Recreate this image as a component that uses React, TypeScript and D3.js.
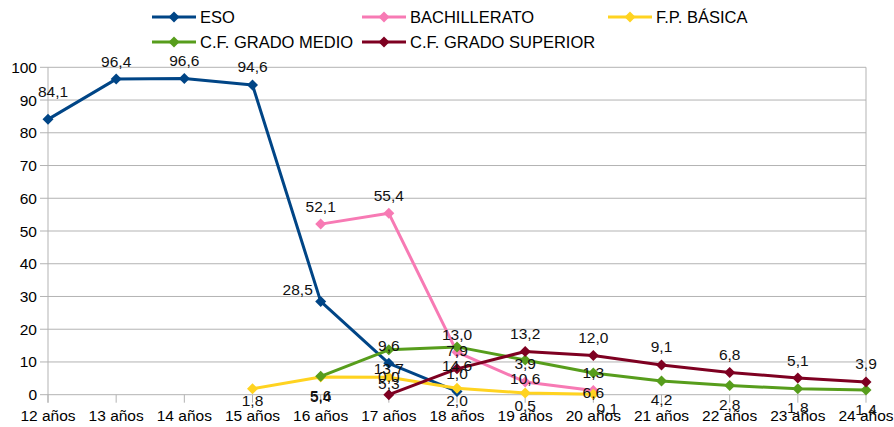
import React from "react";
import * as d3 from "d3";

const categories = ["12 años", "13 años", "14 años", "15 años", "16 años", "17 años", "18 años", "19 años", "20 años", "21 años", "22 años", "23 años", "24 años"];
const yTicks = [0, 10, 20, 30, 40, 50, 60, 70, 80, 90, 100];

const esoValues = [84.1, 96.4, 96.6, 94.6, 28.5, 9.6, 1.0, null, null, null, null, null, null];
const bachValues = [null, null, null, null, 52.1, 55.4, 13.0, 3.9, 1.3, null, null, null, null];
const fpbValues = [null, null, null, 1.8, 5.4, 5.3, 2.0, 0.5, 0.1, null, null, null, null];
const cfgmValues = [null, null, null, null, 5.6, 13.7, 14.6, 10.6, 6.6, 4.2, 2.8, 1.8, 1.4];
const cfgsValues = [null, null, null, null, null, 0.0, 7.9, 13.2, 12.0, 9.1, 6.8, 5.1, 3.9];

const seriesNames = ["ESO", "BACHILLERATO", "F.P. BÁSICA", "C.F. GRADO MEDIO", "C.F. GRADO SUPERIOR"];
const seriesValues = [esoValues, bachValues, fpbValues, cfgmValues, cfgsValues];

// styles / layout
const colors = ["#004586", "#f77ab4", "#ffd320", "#579d1c", "#7e0021"];
const labelDy = [-18, -18, 12, 19, -18];
// label placement adjustments (series-category -> [dx, dy] replacing default)
const labelAdjust: Record<string, [number, number]> = {
  "0-0": [5, -28],
  "0-4": [-23, -12],
  "2-4": [0, 19],
  "2-8": [14, 14],
  "2-5": [0, 6],
};
const legendPos = [
  { x: 152, y: 17 },
  { x: 362, y: 17 },
  { x: 608, y: 17 },
  { x: 152, y: 42 },
  { x: 362, y: 42 },
];

const W = 894;
const H = 427;
const left = 48;
const right = 866;
const top = 67.3;
const bottom = 394.7;
const FONT = "'Liberation Sans', Arial, sans-serif";
const GRID = "#b3b3b3";

const locale = d3.formatLocale({ decimal: ",", thousands: ".", grouping: [3], currency: ["", "€"] });
const fmt = locale.format(".1f");

const diamond = "M0,-5.5L5.5,0L0,5.5L-5.5,0Z";

export default function App() {
  const x = d3.scalePoint<string>().domain(categories).range([left, right]).padding(0);
  const y = d3.scaleLinear().domain([0, 100]).range([bottom, top]);

  const line = d3
    .line<number | null>()
    .defined((d) => d !== null)
    .x((_, i) => x(categories[i]) as number)
    .y((d) => y(d as number));

  return (
    <svg width={W} height={H} style={{ position: "absolute", left: 0, top: 0, background: "#fff" }} fontFamily={FONT}>
      {/* gridlines */}
      {yTicks.map((t) => (
        <line key={"g" + t} x1={left - 8} x2={right} y1={y(t)} y2={y(t)} stroke={GRID} strokeWidth={1} />
      ))}
      {/* axes */}
      <line x1={left} x2={left} y1={top} y2={bottom + 8} stroke={GRID} strokeWidth={1} />
      <line x1={right} x2={right} y1={top} y2={bottom} stroke={GRID} strokeWidth={1} />
      {categories.map((c) => (
        <line key={"t" + c} x1={x(c)} x2={x(c)} y1={bottom} y2={bottom + 8} stroke={GRID} strokeWidth={1} />
      ))}
      {yTicks.map((t) => (
        <text key={"yl" + t} x={37} y={y(t) + 5.5} textAnchor="end" fontSize={15.5} fill="#000">
          {t}
        </text>
      ))}
      {categories.map((c) => (
        <text key={"xl" + c} x={x(c)} y={421} textAnchor="middle" fontSize={15.5} fill="#000">
          {c}
        </text>
      ))}
      {/* series */}
      {seriesValues.map((vals, si) => (
        <g key={"s" + si}>
          <path d={line(vals) || ""} fill="none" stroke={colors[si]} strokeWidth={3} strokeLinejoin="round" />
          {vals.map((v, i) =>
            v === null ? null : (
              <path key={i} d={diamond} transform={`translate(${x(categories[i])},${y(v)})`} fill={colors[si]} />
            )
          )}
        </g>
      ))}
      {/* data labels */}
      {seriesValues.map((vals, si) => (
        <g key={"l" + si}>
          {vals.map((v, i) => {
            if (v === null) return null;
            const adj = labelAdjust[`${si}-${i}`];
            const dx = adj ? adj[0] : 0;
            const dy = adj ? adj[1] : labelDy[si];
            return (
              <text
                key={i}
                x={(x(categories[i]) as number) + dx}
                y={y(v) + dy + 5.5}
                textAnchor="middle"
                fontSize={15.5}
                fill="#111"
              >
                {fmt(v)}
              </text>
            );
          })}
        </g>
      ))}
      {/* legend */}
      {seriesNames.map((n, si) => (
        <g key={"lg" + si} transform={`translate(${legendPos[si].x},${legendPos[si].y})`}>
          <line x1={0} x2={44} y1={0} y2={0} stroke={colors[si]} strokeWidth={3} />
          <path d={diamond} transform="translate(22,0)" fill={colors[si]} />
          <text x={48} y={6} fontSize={16.5} fill="#000">
            {n}
          </text>
        </g>
      ))}
    </svg>
  );
}
